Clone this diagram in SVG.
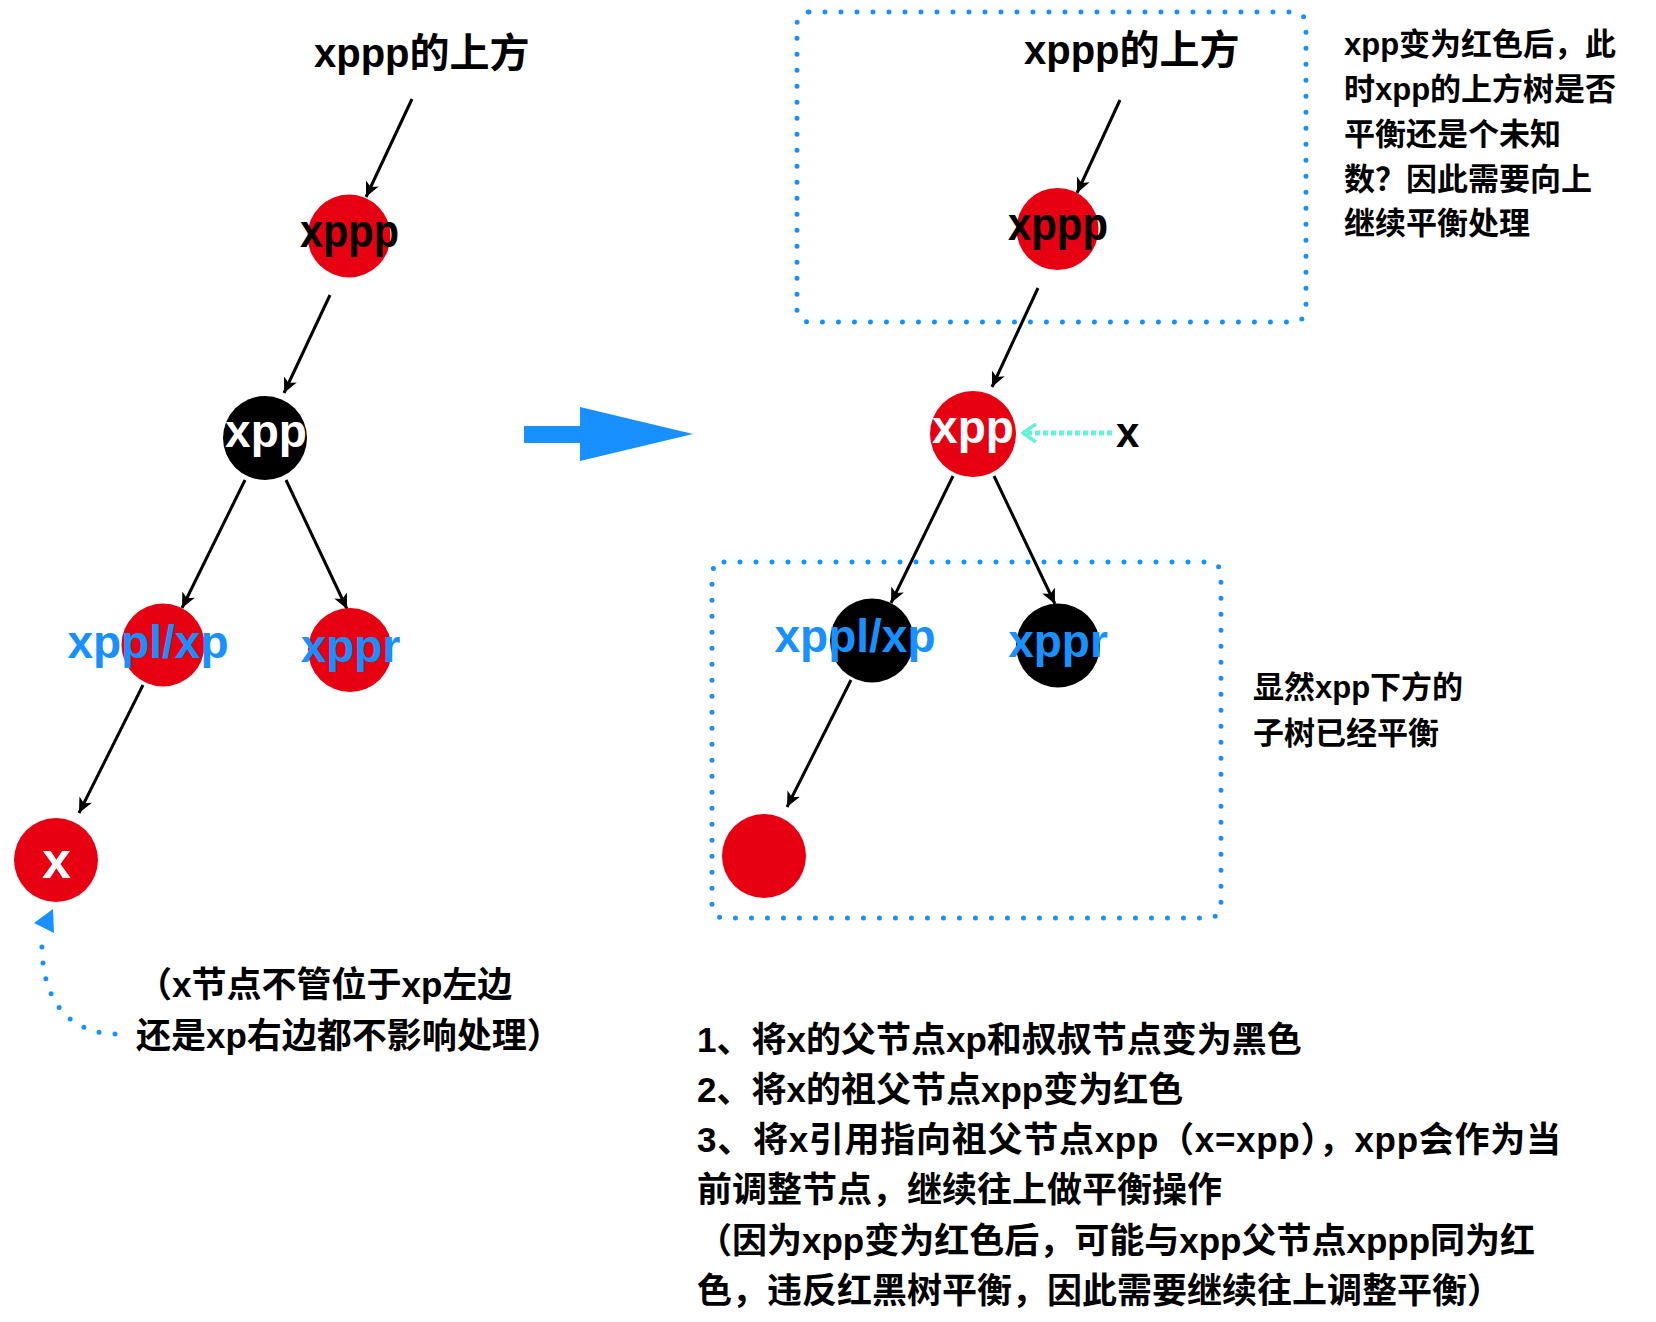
<svg xmlns="http://www.w3.org/2000/svg" width="1656" height="1322" viewBox="0 0 1656 1322">
<style>
text{font-family:"Liberation Sans","Noto Sans CJK SC",sans-serif;font-weight:bold}
.red{fill:#E60012}
.blk{fill:#000000}
.lbl{font-size:46px;text-anchor:middle}
.lw{fill:#FFFFFF}
.lb{fill:#000000}
.lblue{fill:#1890FF}
.edge{stroke:#000;stroke-width:3;fill:none;marker-end:url(#ah)}
.dotbox{fill:none;stroke:#1890FF;stroke-width:5;stroke-linecap:round;stroke-dasharray:0 16}
.note{font-size:31px;fill:#000}
.big{font-size:35px;fill:#000}
.title{font-size:40px;fill:#000}
</style>
<defs>
<marker id="ah" markerUnits="userSpaceOnUse" viewBox="0 0 16 16" refX="15" refY="8" markerWidth="16" markerHeight="16" orient="auto">
<path d="M0,1 L15,8 L0,15 L4,8 z" fill="#000"/>
</marker>
<marker id="cy" markerUnits="userSpaceOnUse" viewBox="0 0 16 20" refX="14" refY="10" markerWidth="16" markerHeight="20" orient="auto">
<path d="M1,1 L14,10 L1,19" fill="none" stroke="#63F2D8" stroke-width="3.5"/>
</marker>
</defs>
<rect width="1656" height="1322" fill="#FFFFFF"/>

<g id="connectors">
<line class="edge" x1="412" y1="99" x2="366" y2="197"/>
<line class="edge" x1="330" y1="295" x2="284" y2="393"/>
<line class="edge" x1="245" y1="480" x2="182" y2="608"/>
<line class="edge" x1="286" y1="480" x2="347" y2="609"/>
<line class="edge" x1="143" y1="685" x2="79" y2="813"/>
<path d="M115,1034 C60,1032 40,990 42,937" class="dotbox"/>
<polygon points="53,909 34,923 54,933" fill="#1890FF"/>
<polygon points="524,426 580,426 580,407 693,434 580,461 580,443 524,443" fill="#1890FF"/>
<line class="edge" x1="1120" y1="100" x2="1077" y2="193"/>
<line class="edge" x1="1038" y1="288" x2="992" y2="387"/>
<line class="edge" x1="953" y1="476" x2="891" y2="603"/>
<line class="edge" x1="994" y1="476" x2="1055" y2="604"/>
<line class="edge" x1="851" y1="680" x2="787" y2="807"/>
<line x1="1112" y1="433" x2="1023" y2="433" stroke="#63F2D8" stroke-width="5" stroke-dasharray="5 3" marker-end="url(#cy)"/>
</g>

<g id="left-title"><text class="title" x="314" y="67">xppp的上方</text></g>
<g id="left-xppp"><circle class="red" cx="349" cy="236" r="41.5"/><text class="lbl lb" x="349.5" y="247" textLength="99" lengthAdjust="spacingAndGlyphs">xppp</text></g>
<g id="left-xpp"><circle class="blk" cx="265" cy="438" r="42"/><text class="lbl lw" x="266" y="447">xpp</text></g>
<g id="left-xppl"><circle class="red" cx="163" cy="645" r="41.5"/><text class="lbl lblue" x="148" y="658">xppl/xp</text></g>
<g id="left-xppr"><circle class="red" cx="350" cy="650" r="42"/><text class="lbl lblue" x="350.5" y="662">xppr</text></g>
<g id="left-x"><circle class="red" cx="56" cy="860" r="42"/><text class="lw" x="56.5" y="878" font-size="52" text-anchor="middle">x</text></g>
<g id="left-note">
<text class="big" x="137" y="997">（x节点不管位于xp左边</text>
<text class="big" x="136" y="1048">还是xp右边都不影响处理）</text>
</g>

<g id="top-box"><rect class="dotbox" x="797" y="12" width="509" height="310" rx="12"/></g>
<g id="right-title"><text class="title" x="1024" y="64">xppp的上方</text></g>
<g id="right-xppp"><circle class="red" cx="1057.5" cy="229" r="41"/><text class="lbl lb" x="1058" y="240" textLength="100" lengthAdjust="spacingAndGlyphs">xppp</text></g>
<g id="right-xpp"><circle class="red" cx="973" cy="434" r="43"/><text class="lbl lw" x="973" y="443">xpp</text></g>
<g id="x-label"><text x="1116" y="447" font-size="42" fill="#000">x</text></g>
<g id="bottom-box"><rect class="dotbox" x="712" y="562" width="509" height="356" rx="12"/></g>
<g id="right-xppl"><circle class="blk" cx="872" cy="640.5" r="42"/><text class="lbl lblue" x="855" y="652">xppl/xp</text></g>
<g id="right-xppr"><circle class="blk" cx="1058" cy="645.5" r="42"/><text class="lbl lblue" x="1058" y="657">xppr</text></g>
<g id="right-red"><circle class="red" cx="764" cy="856" r="42"/></g>

<g id="note-top">
<text class="note" x="1344" y="55">xpp变为红色后，此</text>
<text class="note" x="1344" y="100">时xpp的上方树是否</text>
<text class="note" x="1344" y="145">平衡还是个未知</text>
<text class="note" x="1344" y="190">数？因此需要向上</text>
<text class="note" x="1344" y="234">继续平衡处理</text>
</g>
<g id="note-mid">
<text class="note" x="1253" y="698">显然xpp下方的</text>
<text class="note" x="1253" y="744">子树已经平衡</text>
</g>
<g id="note-bottom">
<text class="big" x="697" y="1052">1、将x的父节点xp和叔叔节点变为黑色</text>
<text class="big" x="697" y="1102">2、将x的祖父节点xpp变为红色</text>
<text class="big" x="697" y="1152" textLength="864" lengthAdjust="spacing">3、将x引用指向祖父节点xpp（x=xpp），xpp会作为当</text>
<text class="big" x="697" y="1202">前调整节点，继续往上做平衡操作</text>
<text class="big" x="697" y="1253">（因为xpp变为红色后，可能与xpp父节点xppp同为红</text>
<text class="big" x="697" y="1303">色，违反红黑树平衡，因此需要继续往上调整平衡）</text>
</g>
</svg>
